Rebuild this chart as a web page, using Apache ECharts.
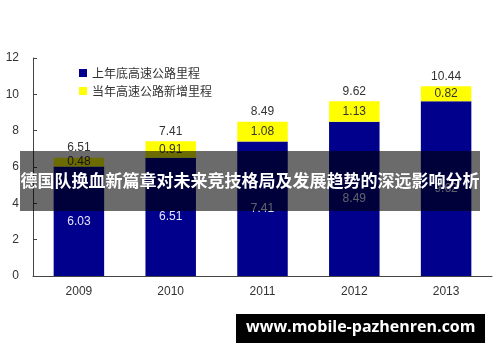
<!DOCTYPE html>
<html><head><meta charset="utf-8">
<script src="https://cdn.jsdelivr.net/npm/echarts@6/dist/echarts.min.js"></script>
<style>html,body{margin:0;padding:0;background:#fff}#c{width:500px;height:362px}</style>
</head><body><div id="c"></div>
<script>
const years = ['2009','2010','2011','2012','2013'];
const baseMileage = [6.03, 6.51, 7.41, 8.49, 9.62];
const addedMileage = [0.48, 0.91, 1.08, 1.13, 0.82];
const totals = [6.51, 7.41, 8.49, 9.62, 10.44];
const yTicks = [0, 2, 4, 6, 8, 10, 12];
const seriesNames = ['上年底高速公路里程', '当年高速公路新增里程'];
const overlayTitle = '德国队换血新篇章对未来竞技格局及发展趋势的深远影响分析';
const footerText = 'www.mobile-pazhenren.com';

const chart = echarts.init(document.getElementById('c'));
chart.setOption({
  animation: false,
  backgroundColor: '#fff',
  grid: {left: 33, right: 8, top: 58, bottom: 86},
  legend: {
    data: seriesNames, orient: 'vertical', left: 74, top: 62,
    itemWidth: 8, itemHeight: 8, itemGap: 6, icon: 'rect',
    textStyle: {fontSize: 12, color: '#333', fontFamily: 'Noto Sans CJK SC'}
  },
  xAxis: {
    type: 'category', data: years,
    axisLine: {lineStyle: {color: '#444', width: 1}},
    axisTick: {inside: true, length: 4, lineStyle: {color: '#444'}},
    axisLabel: {fontSize: 12, color: '#333', margin: 10, fontFamily: 'Arial'}
  },
  yAxis: {
    type: 'value', min: yTicks[0], max: yTicks[yTicks.length - 1], interval: 2,
    splitLine: {show: false},
    axisLine: {show: true, lineStyle: {color: '#444', width: 1}},
    axisTick: {show: true, inside: true, length: 4, lineStyle: {color: '#444'}},
    axisLabel: {fontSize: 12, color: '#333', margin: 14, fontFamily: 'Arial'}
  },
  series: [
    {
      name: seriesNames[0], type: 'bar', stack: 's', data: baseMileage, barWidth: '55%',
      itemStyle: {color: '#00008c'},
      label: {show: true, position: 'inside', color: '#e6e6ff', fontSize: 12, fontFamily: 'Arial'}
    },
    {
      name: seriesNames[1], type: 'bar', stack: 's', data: addedMileage, barWidth: '55%',
      itemStyle: {color: '#ffff00'},
      label: {show: true, position: 'inside', color: '#333', fontSize: 12, fontFamily: 'Arial'}
    },
    {
      name: 'total', type: 'bar', data: totals, barWidth: '55%', barGap: '-100%', z: 1,
      itemStyle: {color: 'rgba(0,0,0,0)'},
      label: {show: true, position: 'top', distance: 4, color: '#333', fontSize: 12, fontFamily: 'Arial'},
      tooltip: {show: false}
    }
  ],
  graphic: [
    {type: 'rect', left: 20, top: 151, shape: {width: 460, height: 60}, style: {fill: 'rgba(0,0,0,0.58)'}, z: 100},
    {type: 'text', left: 'center', top: 172, style: {text: overlayTitle, fill: '#fff', font: 'bold 17px "Noto Sans CJK SC"'}, z: 101},
    {type: 'rect', left: 236, top: 314, shape: {width: 249, height: 29}, style: {fill: '#000'}, z: 100},
    {type: 'text', left: 246, top: 319, style: {text: footerText, fill: '#fff', font: 'bold 16px "Open Sans"'}, z: 101}
  ]
});
</script></body></html>
